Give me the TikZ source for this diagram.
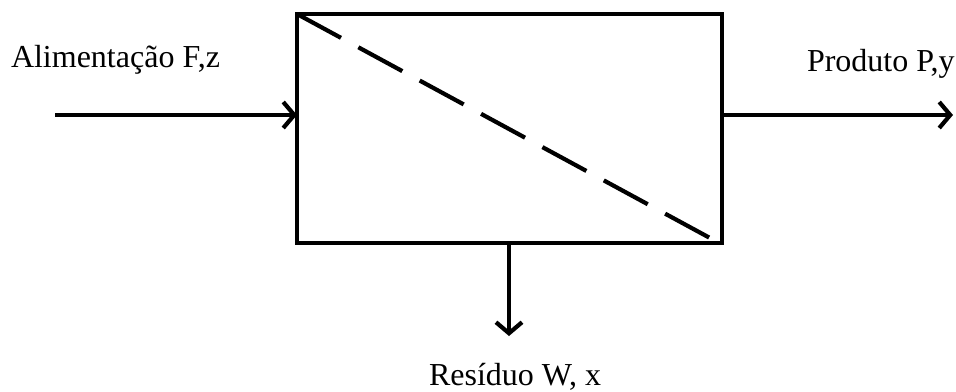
\documentclass[tikz,border=0pt]{standalone}
\usepackage{fontspec}
\setmainfont{Liberation Serif}
\usetikzlibrary{arrows.meta}
\begin{document}
\begin{tikzpicture}[x=1pt,y=-1pt,
  lbl/.style={inner sep=0pt,outer sep=0pt,font=\fontsize{32}{38}\selectfont},
  flow/.style={line width=4.2pt,-{Straight Barb[length=11pt,width=26pt,line width=4.2pt]}},
  unit/.style={draw,line width=4.2pt,minimum width=425pt,minimum height=229pt,inner sep=0pt,outer sep=0pt}]
\useasboundingbox (0,0) rectangle (956,391);
\node[unit] (box) at (509.5,128.5) {};
\coordinate (inS) at (55,115);
\coordinate (inE) at (box.west |- inS);
\coordinate (outS) at (box.east |- inS);
\coordinate (outE) at (953,115);
\coordinate (botS) at (509,243);
\coordinate (botE) at (509,336);
\draw[line width=4.2pt,dash pattern=on 50pt off 19.8pt] (box.north west) -- (710,238);
\draw[flow] (inS) -- (inE);
\draw[flow] (outS) -- (outE);
\draw[flow] (botS) -- (botE);
\node[lbl,anchor=base west] (feed) at (11,67) {Alimentação F,z};
\node[lbl,anchor=base west] (prod) at (807,71) {Produto P,y};
\node[lbl,anchor=base west] (res) at (429,385) {Resíduo W, x};
\end{tikzpicture}
\end{document}
